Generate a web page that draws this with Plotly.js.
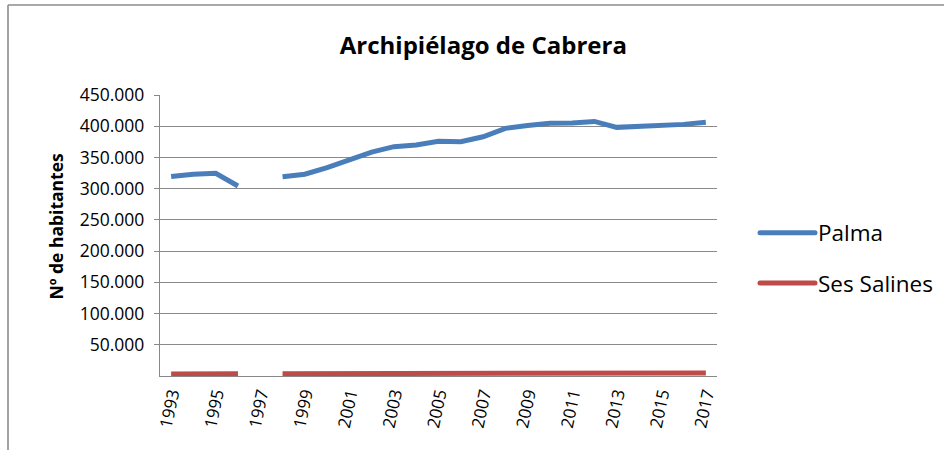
<!DOCTYPE html>
<html>
<head>
<meta charset="utf-8">
<script src="https://cdn.plot.ly/plotly-3.0.1.min.js"></script>
<style>html,body{margin:0;padding:0;background:#fff;}#chart{width:944px;height:450px;}</style>
</head>
<body>
<div id="chart"></div>
<script>
const years = [1993,1994,1995,1996,1997,1998,1999,2000,2001,2002,2003,2004,2005,2006,2007,2008,2009,2010,2011,2012,2013,2014,2015,2016,2017];
const palma = [319500,323000,324500,304250,null,319181,323138,333801,346720,358462,367277,369826,375773,375048,383107,396570,401270,404681,405318,407648,398162,399093,400578,402949,406492];
const sesSalines = [3400,3450,3500,3600,null,3650,3750,3800,3700,3900,4100,4200,4300,4400,4600,4900,5000,5000,5000,5000,4950,4900,4850,4800,4900];
const xTickVals = [1993,1995,1997,1999,2001,2003,2005,2007,2009,2011,2013,2015,2017];
const xTickText = ["1993","1995","1997","1999","2001","2003","2005","2007","2009","2011","2013","2015","2017"];
const yTickVals = [50000,100000,150000,200000,250000,300000,350000,400000,450000];
const yTickText = ["50.000","100.000","150.000","200.000","250.000","300.000","350.000","400.000","450.000"];
const seriesNames = ["Palma","Ses Salines"];
const chartTitle = "Archipiélago de Cabrera";
const yTitle = "Nº de habitantes";

const M = {l:160, r:227, t:95, b:74, autoexpand: false};
const W = 944, H = 450;
const pw = W - M.l - M.r, ph = H - M.t - M.b;
const px = v => (v - M.l) / pw;
const py = v => (H - M.b - v) / ph;

const FONT = "Open Sans, Lato, sans-serif";
const traces = [
  {x: years, y: palma, name: seriesNames[0], type: 'scatter', mode: 'lines', connectgaps: false,
   line: {color: '#4A7EBB', width: 5}, legendgroup: 'a'},
  {x: years, y: sesSalines, name: seriesNames[1], type: 'scatter', mode: 'lines', connectgaps: false,
   line: {color: '#BE4B48', width: 5}, legendgroup: 'b'}
];

const layout = {
  width: W, height: H,
  margin: M,
  paper_bgcolor: '#fff', plot_bgcolor: '#fff',
  font: {family: FONT, color: '#000', size: 16},
  title: {text: '<b>' + chartTitle + '</b>', font: {family: FONT, size: 24, color: '#000'},
          x: 0.512, xanchor: 'center', y: 1 - 46/H, yanchor: 'middle'},
  xaxis: {range: [1992.5, 2017.5], tickmode: 'array', tickvals: xTickVals, ticktext: xTickText,
          tickangle: -78, showgrid: false, zeroline: false, showline: true, linecolor: '#888',
          linewidth: 1.2, ticks: '', tickfont: {family: FONT, size: 17, color: '#000'}, fixedrange: true},
  yaxis: {range: [0, 450000], tickmode: 'array', tickvals: yTickVals, ticktext: yTickText,
          showgrid: true, gridcolor: '#8a8a8a', gridwidth: 1.2, zeroline: false,
          showline: true, linecolor: '#888', linewidth: 1.2, ticks: 'outside', ticklen: 5,
          tickcolor: '#888', ticklabelstandoff: 6,
          tickfont: {family: FONT, size: 17.5, color: '#000'},
          title: {text: '<b>&nbsp;&nbsp;&nbsp;&nbsp;' + yTitle + '</b>', font: {family: FONT, size: 17.5, color: '#000'}, standoff: 11},
          fixedrange: true},
  showlegend: true,
  legend: {x: px(755), xanchor: 'left', y: py(258), yanchor: 'middle', tracegroupgap: 18,
           font: {family: FONT, size: 22.5, color: '#000'}, bgcolor: 'rgba(0,0,0,0)', itemwidth: 53},
  shapes: [
    {type: 'line', xref: 'paper', yref: 'paper', x0: px(8), x1: px(8), y0: py(5), y1: py(470),
     line: {color: '#8c8c8c', width: 1.6}, layer: 'below'},
    {type: 'line', xref: 'paper', yref: 'paper', x0: px(8), x1: px(960), y0: py(5), y1: py(5),
     line: {color: '#8c8c8c', width: 1.6}, layer: 'below'}
  ]
};

Plotly.newPlot('chart', traces, layout, {displayModeBar: false, staticPlot: true}).then(gd => {
  // lengthen legend line samples to match the reference's longer swatches
  gd.querySelectorAll('.legend .legendlines path').forEach(p => {
    p.setAttribute('d', 'M5,0h55');
    p.style.strokeLinecap = 'round';
  });
});
</script>
</body>
</html>
